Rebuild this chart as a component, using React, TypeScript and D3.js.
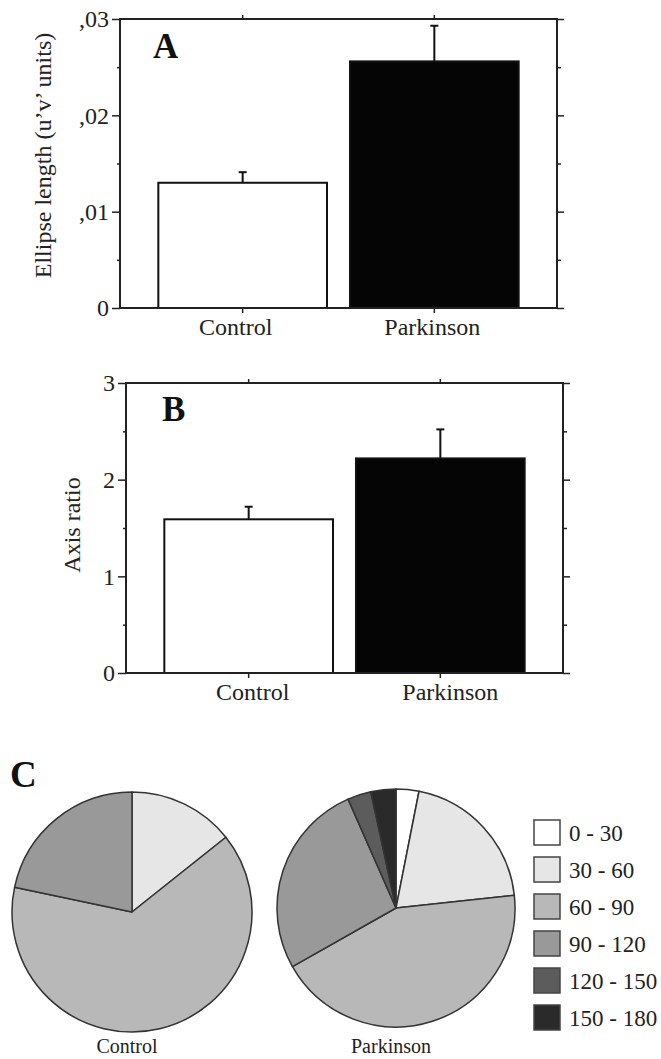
import { useCallback } from "react";
import * as d3 from "d3";

// groups shared by panels A and B
const groups = ["Control", "Parkinson"];

// panel A : ellipse length
const ellipseMeans = [0.013, 0.0256];
const ellipseErrors = [0.0011, 0.0037];
const ellipseTicks = [0, 0.01, 0.02, 0.03];
const ellipseTickLabels = ["0", ",01", ",02", ",03"];
const ellipseMinor = [0.005, 0.015, 0.025];

// panel B : axis ratio
const ratioMeans = [1.59, 2.22];
const ratioErrors = [0.13, 0.3];
const ratioTicks = [0, 1, 2, 3];
const ratioTickLabels = ["0", "1", "2", "3"];
const ratioMinor = [0.5, 1.5, 2.5];

// panel C : orientation bins (percent of ellipses)
const angleBins = ["0 - 30", "30 - 60", "60 - 90", "90 - 120", "120 - 150", "150 - 180"];
const controlShares = [0, 14.3, 64, 21.7, 0, 0];
const parkinsonShares = [3.1, 20.2, 43.5, 26.6, 3.2, 3.4];
const binColors = ["#ffffff", "#e6e6e6", "#b8b8b8", "#999999", "#5c5c5c", "#2a2a2a"];

const W = 661;
const H = 1059;
const serif = "Liberation Serif, Times New Roman, Times, serif";

const drawBarPanel = (svg, cfg) => {
    const g = svg.append("g");
    const x = d3.scaleBand()
        .domain(groups)
        .range([cfg.left, cfg.right])
        .paddingInner(0.12)
        .paddingOuter(0.2);
    const y = d3.scaleLinear()
        .domain([0, cfg.max])
        .range([cfg.bottom, cfg.top]);

    // bars
    g.append("g")
        .selectAll("rect")
        .data(groups)
        .join("rect")
            .attr("x", (d) => x(d))
            .attr("y", (d, i) => y(cfg.means[i]))
            .attr("width", x.bandwidth())
            .attr("height", (d, i) => y(0) - y(cfg.means[i]))
            .attr("fill", (d, i) => i === 0 ? "#ffffff" : "#050505")
            .attr("stroke", "#111")
            .attr("stroke-width", 2);

    // error bars (upper only)
    const err = g.append("g").attr("stroke", "#111").attr("stroke-width", 2);
    err.selectAll("line.stem")
        .data(groups)
        .join("line")
            .attr("class", "stem")
            .attr("x1", (d) => x(d) + x.bandwidth() / 2)
            .attr("x2", (d) => x(d) + x.bandwidth() / 2)
            .attr("y1", (d, i) => y(cfg.means[i]))
            .attr("y2", (d, i) => y(cfg.means[i] + cfg.errors[i]));
    err.selectAll("line.cap")
        .data(groups)
        .join("line")
            .attr("class", "cap")
            .attr("x1", (d) => x(d) + x.bandwidth() / 2 - 4)
            .attr("x2", (d) => x(d) + x.bandwidth() / 2 + 4)
            .attr("y1", (d, i) => y(cfg.means[i] + cfg.errors[i]))
            .attr("y2", (d, i) => y(cfg.means[i] + cfg.errors[i]));

    const styleAxis = (a) => {
        a.select(".domain").remove();
        a.attr("font-family", null).attr("font-size", null);
        a.selectAll(".tick line").attr("stroke", "#222").attr("stroke-width", 1.5);
        a.selectAll(".tick text")
            .attr("fill", "#222")
            .style("font-family", serif)
            .style("font-size", "24px");
    };

    // left axis
    g.append("g")
        .attr("transform", `translate(${cfg.left},0)`)
        .call(d3.axisLeft(y).tickValues(cfg.ticks).tickFormat((d, i) => cfg.labels[i]).tickSize(8).tickPadding(3))
        .call(styleAxis);
    g.append("g")
        .attr("transform", `translate(${cfg.left},0)`)
        .call(d3.axisLeft(y).tickValues(cfg.minor).tickFormat(() => "").tickSize(3))
        .call(styleAxis);

    // right axis
    g.append("g")
        .attr("transform", `translate(${cfg.right},0)`)
        .call(d3.axisRight(y).tickValues(cfg.ticks).tickFormat(() => "").tickSize(7))
        .call(styleAxis);
    g.append("g")
        .attr("transform", `translate(${cfg.right},0)`)
        .call(d3.axisRight(y).tickValues(cfg.minor).tickFormat(() => "").tickSize(4))
        .call(styleAxis);

    // bottom and top axes
    g.append("g")
        .attr("transform", `translate(0,${cfg.bottom})`)
        .call(d3.axisBottom(x).tickSize(5).tickPadding(5))
        .call(styleAxis)
        .call(a => a.selectAll(".tick text").attr("dx", (d, i) => cfg.labelShift[i]));
    g.append("g")
        .attr("transform", `translate(0,${cfg.top})`)
        .call(d3.axisTop(x).tickSize(4).tickFormat(() => ""))
        .call(styleAxis);

    // frame
    g.append("rect")
        .attr("x", cfg.left)
        .attr("y", cfg.top)
        .attr("width", cfg.right - cfg.left)
        .attr("height", cfg.bottom - cfg.top)
        .attr("fill", "none")
        .attr("stroke", "#222")
        .attr("stroke-width", 2);

    // panel letter
    g.append("text")
        .attr("x", cfg.letterX)
        .attr("y", cfg.letterY)
        .style("font-family", serif)
        .style("font-weight", "bold")
        .style("font-size", "35px")
        .attr("fill", "#111")
        .text(cfg.letter);

    // y label
    g.append("text")
        .attr("transform", `translate(${cfg.labelX},${(cfg.top + cfg.bottom) / 2 + cfg.labelDy}) rotate(-90)`)
        .attr("text-anchor", "middle")
        .style("font-family", serif)
        .style("font-size", "24px")
        .attr("fill", "#222")
        .text(cfg.yLabel);
};

const drawPie = (svg, shares, cx, cy, r, label) => {
    const pie = d3.pie().sort(null).value((d) => d)(shares);
    const arc = d3.arc().innerRadius(0).outerRadius(r);
    const g = svg.append("g").attr("transform", `translate(${cx},${cy})`);
    g.selectAll("path")
        .data(pie.filter(p => p.value > 0))
        .join("path")
            .attr("d", arc)
            .attr("fill", (d) => binColors[d.index])
            .attr("stroke", "#333")
            .attr("stroke-width", 1.5)
            .attr("stroke-linejoin", "round");
    svg.append("text")
        .attr("x", cx - 5)
        .attr("y", H - 6)
        .attr("text-anchor", "middle")
        .style("font-family", serif)
        .style("font-size", "20px")
        .attr("fill", "#222")
        .text(label);
};

const App = () => {
    const chart = useCallback((node) => {
        if (!node) return;
        const root = d3.select(node);
        root.selectAll("*").remove();
        const svg = root.append("svg")
            .attr("width", W)
            .attr("height", H)
            .attr("viewBox", [0, 0, W, H])
            .style("position", "absolute")
            .style("left", "0px")
            .style("top", "0px")
            .style("background", "#fff")
            .style("font-family", serif);

        drawBarPanel(svg, {
            left: 120, right: 557, top: 19, bottom: 308,
            max: 0.03, ticks: ellipseTicks, labels: ellipseTickLabels, minor: ellipseMinor,
            means: ellipseMeans, errors: ellipseErrors, labelShift: [-7, -2],
            letter: "A", letterX: 153, letterY: 58,
            yLabel: "Ellipse length (u\u2019v\u2019 units)", labelX: 51, labelDy: -8
        });
        drawBarPanel(svg, {
            left: 126, right: 563, top: 383, bottom: 673,
            max: 3, ticks: ratioTicks, labels: ratioTickLabels, minor: ratioMinor,
            means: ratioMeans, errors: ratioErrors, labelShift: [4, 10],
            letter: "B", letterX: 162, letterY: 421,
            yLabel: "Axis ratio", labelX: 80, labelDy: -3
        });

        svg.append("text")
            .attr("x", 10)
            .attr("y", 787)
            .style("font-family", serif)
            .style("font-weight", "bold")
            .style("font-size", "37px")
            .attr("fill", "#111")
            .text("C");

        drawPie(svg, controlShares, 132, 912, 120, "Control");
        drawPie(svg, parkinsonShares, 396, 908, 119, "Parkinson");

        // legend
        const legend = svg.append("g");
        legend.selectAll("rect")
            .data(angleBins)
            .join("rect")
                .attr("x", 534)
                .attr("y", (d, i) => 820 + i * 37)
                .attr("width", 26)
                .attr("height", 25)
                .attr("fill", (d, i) => binColors[i])
                .attr("stroke", "#444")
                .attr("stroke-width", 1.5);
        legend.selectAll("text")
            .data(angleBins)
            .join("text")
                .attr("x", 569)
                .attr("y", (d, i) => 820 + i * 37 + 12.5)
                .attr("dy", "0.35em")
                .style("font-family", serif)
                .style("font-size", "23px")
                .attr("fill", "#222")
                .text((d) => d);
    }, []);

    return <div ref={chart}></div>;
};

export default App;
